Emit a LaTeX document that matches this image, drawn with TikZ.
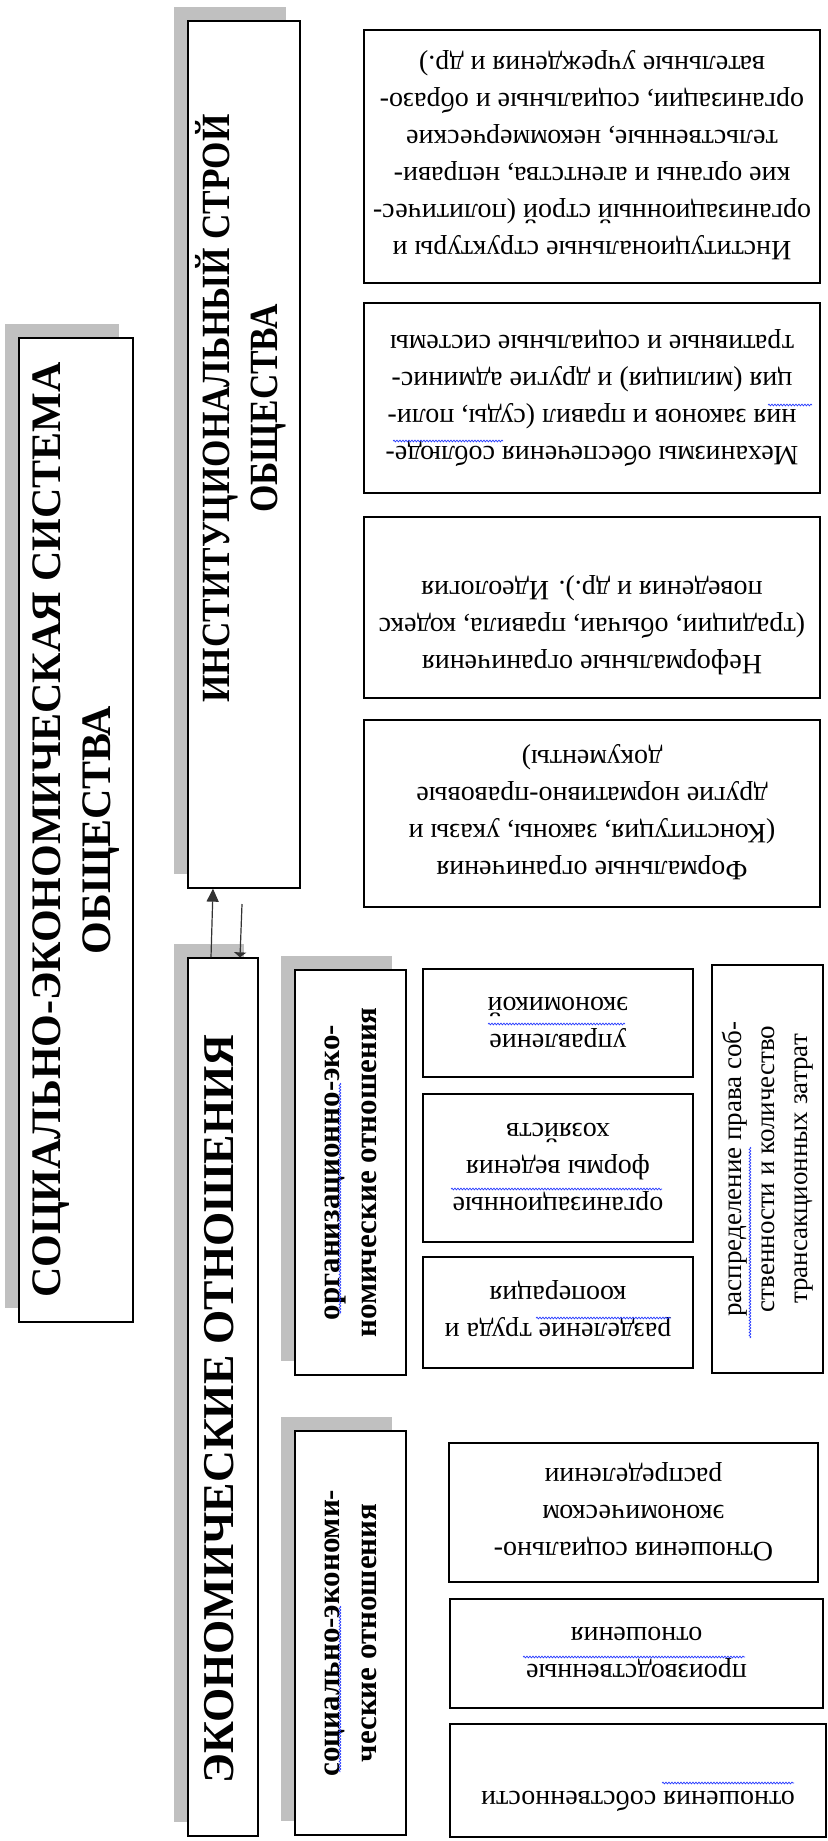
\documentclass[tikz,border=0pt]{standalone}
\usepackage{fontspec}
\setmainfont{Liberation Serif}
\usetikzlibrary{arrows.meta,shadows,decorations.pathmorphing}
\definecolor{shadegray}{RGB}{192,192,192}
\definecolor{spellblue}{RGB}{40,60,255}
\newcommand{\uptext}[4][1]{\rotatebox{90}{\scalebox{#1}[1]{\fontsize{#2}{#3}\selectfont\begin{tabular}{@{}c@{}}#4\end{tabular}}}}
\newcommand{\downtext}[1]{\rotatebox{180}{\fontsize{28}{37}\selectfont\begin{tabular}{@{}c@{}}#1\end{tabular}}}

\begin{document}
\begin{tikzpicture}[x = 1pt, y = -1pt,
		bigbox/.style = {draw, line width = 1.3pt, fill = white, inner sep = 0pt, font = \bfseries,
			drop shadow = {shadow xshift = -14pt, shadow yshift = 14pt, fill = shadegray, opacity = 1}},
		smallbox/.style = {draw, line width = 1.1pt, fill = white, inner sep = 0pt},
		link/.style = {line width = 1.2pt, draw = black!80},
		spell/.style = {draw = spellblue, line width = 0.7pt, decorate, decoration = {snake, amplitude = 0.9pt, segment length = 3pt}}]
	\useasboundingbox (0, 0) rectangle (827, 1841);
	
	\node[bigbox, minimum width = 114pt, minimum height = 984pt] (soc) at (76, 830)
		{\uptext{42}{50}{СОЦИАЛЬНО-ЭКОНОМИЧЕСКАЯ СИСТЕМА\\ОБЩЕСТВА}};
	\node[bigbox, minimum width = 112pt, minimum height = 867pt] (inst) at (244, 454.5) {};
	\node[font = \bfseries] (insttext) at ([yshift = 46pt]inst.center)
		{\uptext[0.88]{40}{48}{ИНСТИТУЦИОНАЛЬНЫЙ СТРОЙ\\ОБЩЕСТВА}};
	\node[bigbox, minimum width = 70pt, minimum height = 878pt] (econ) at (223, 1397) {};
	\node[font = \bfseries] (econtext) at ([yshift = -12pt]econ.center)
		{\uptext{44}{50}{ЭКОНОМИЧЕСКИЕ ОТНОШЕНИЯ}};
	
	\node[smallbox, minimum width = 456pt, minimum height = 253pt] (struct) at (592, 156.5)
		{\downtext{Институциональные структуры и\\организационный строй (политичес-\\кие органы и агентства, неправи-\\тельственные, некоммерческие\\организации, социальные и образо-\\вательные учреждения и др.)}};
	\node[smallbox, minimum width = 456pt, minimum height = 190pt] (enforce) at (592, 398)
		{\downtext{Механизмы обеспечения соблюде-\\ния законов и правил (суды, поли-\\ция (милиция) и другие админис-\\тративные и социальные системы}};
	\node[smallbox, minimum width = 456pt, minimum height = 181pt] (informal) at (592, 607.5)
		{\downtext{Неформальные ограничения\\(традиции, обычаи, правила, кодекс\\поведения и др.). Идеология\\\mbox{}}};
	\node[smallbox, minimum width = 456pt, minimum height = 187pt] (formal) at (592, 813.5)
		{\downtext{Формальные ограничения\\(Конституция, законы, указы и\\другие нормативно-правовые\\документы)}};
	
	\node[bigbox, minimum width = 111pt, minimum height = 405pt] (orgecon) at (350.5, 1172.5)
		{\uptext{31}{37}{организационно-эко-\\номические отношения}};
	\node[smallbox, minimum width = 270pt, minimum height = 108pt] (manage) at (558, 1023)
		{\downtext{управление\\экономикой}};
	\node[smallbox, minimum width = 270pt, minimum height = 148pt] (forms) at (558, 1168)
		{\downtext{организационные\\формы ведения\\хозяйств}};
	\node[smallbox, minimum width = 270pt, minimum height = 111pt] (labour) at (558, 1312.5)
		{\downtext{разделение труда и\\кооперация}};
	\node[smallbox, minimum width = 111pt, minimum height = 408pt] (rights) at (767.5, 1169)
		{\uptext{27}{33}{распределение права соб-\\ственности и количество\\трансакционных затрат}};
	
	\node[bigbox, minimum width = 111pt, minimum height = 404pt] (socecon) at (350.5, 1633)
		{\uptext{31}{37}{социально-экономи-\\ческие отношения}};
	\node[smallbox, minimum width = 369pt, minimum height = 139pt] (distrib) at (633.5, 1512.5)
		{\downtext{Отношения социально-\\экономическом\\распределении}};
	\node[smallbox, minimum width = 373pt, minimum height = 109pt] (product) at (636.5, 1653.5)
		{\downtext{производственные\\отношения}};
	\node[smallbox, minimum width = 376pt, minimum height = 113pt] (property) at (638, 1780.5)
		{\downtext{отношения собственности\\\mbox{}}};
	
	\coordinate (down) at (242, 904);
	\draw[link, -{Triangle[width = 12pt, length = 13pt]}] ([xshift = -12pt]econ.north) -- ([xshift = -31pt]inst.south);
	\draw[link, -{Triangle[width = 12pt, length = 5pt]}] (down) -- ([xshift = 17pt]econ.north);
	
	\draw[spell] (393, 441) -- (503, 441);
	\draw[spell] (768, 405) -- (812, 405);
	\draw[spell] (488, 1024) -- (625, 1024);
	\draw[spell] (451, 1189) -- (662, 1189);
	\draw[spell] (536, 1318) -- (671, 1318);
	\draw[spell] (750, 1147) -- (750, 1338);
	\draw[spell] (523, 1657) -- (745, 1657);
	\draw[spell] (662, 1783) -- (794, 1783);
	\draw[spell] (340, 1083) -- (340, 1314);
	\draw[spell] (340, 1606) -- (340, 1772);
\end{tikzpicture}
\end{document}
